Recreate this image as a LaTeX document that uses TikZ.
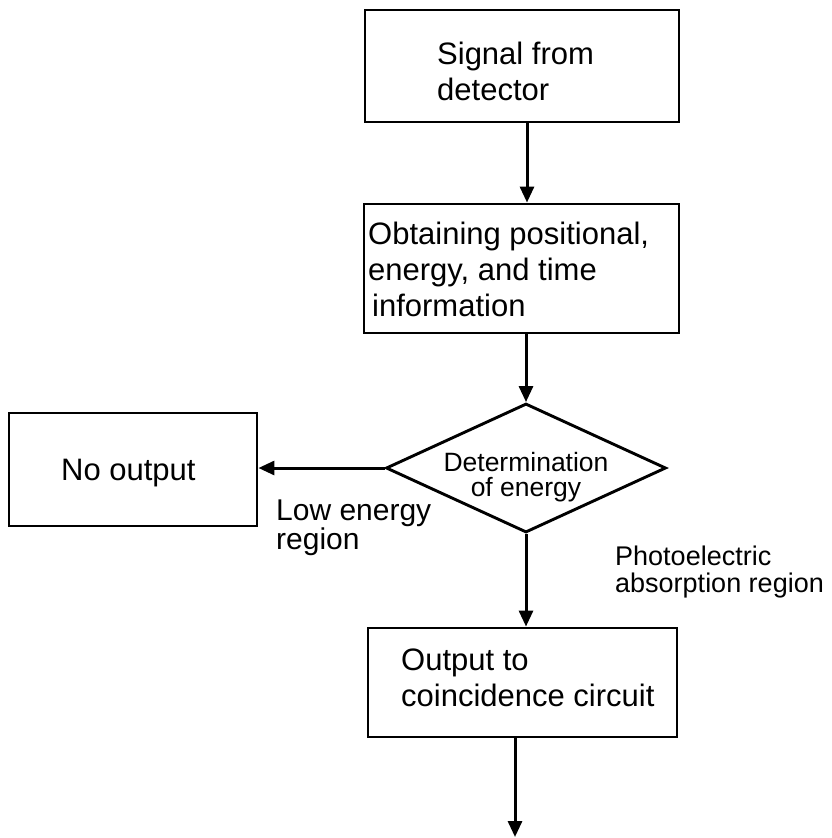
\documentclass[tikz,border=0pt]{standalone}
\usepackage{fontspec}
\setmainfont{Liberation Sans}
\usetikzlibrary{arrows.meta,shapes.geometric}

\tikzset{
  frame/.style={draw,line width=2.9pt,inner sep=0pt},
  txt/.style={inner sep=0pt,anchor=north west,align=left,font=\fontsize{31}{36}\selectfont},
  flow/.style={line width=3pt,-{Triangle[length=16pt,width=14pt]}}
}

\begin{document}
\begin{tikzpicture}[x=1pt,y=-1pt]
\useasboundingbox (0,0) rectangle (831,838);
% frames
\foreach \nm/\cx/\cy/\w/\h in {sig/522/66/314/112,info/521.5/268.5/315/129,out/522.5/682.5/309/109,none/133/469.5/248/113} {
  \node[frame,minimum width=\w,minimum height=\h] (\nm) at (\cx,\cy) {};
}
\node[frame,diamond,aspect=2.17,minimum width=280,minimum height=129] (dec) at (526,468) {};
% texts
\foreach \nm/\tx/\ty/\body in {sigtxt/437/42/{Signal from\\detector},infotxt/368/222/{Obtaining positional,\\energy, and time\\\hspace*{4pt}information},outtxt/401/649/{Output to\\coincidence circuit},nonetxt/61/459/{No output}} {
  \node[txt] (\nm) at (\tx,\ty) {\body};
}
\node[inner sep=0pt,anchor=north,align=center,font=\fontsize{26.5}{25}\selectfont] (dectxt) at (526,452) {Determination\\of energy};
\node[inner sep=0pt,anchor=north west,align=left,font=\fontsize{30}{26}\selectfont] (lowlbl) at (276,500) {Low energy\\region};
\node[inner sep=0pt,anchor=north west,align=left,font=\fontsize{27}{27}\selectfont] (photolbl) at (615,546) {Photoelectric\\absorption region};
% connectors
\coordinate (end) at (515,837);
\draw[flow] ([xshift=5pt]sig.south) -- ([xshift=5pt]sig.south |- info.north);
\draw[flow] (info.south -| dec.north) -- (dec.north);
\draw[flow] (dec.west) -- (dec.west -| none.east);
\draw[flow] (dec.south) -- (dec.south |- out.north);
\draw[flow] (out.south -| end) -- (end);
\end{tikzpicture}
\end{document}
